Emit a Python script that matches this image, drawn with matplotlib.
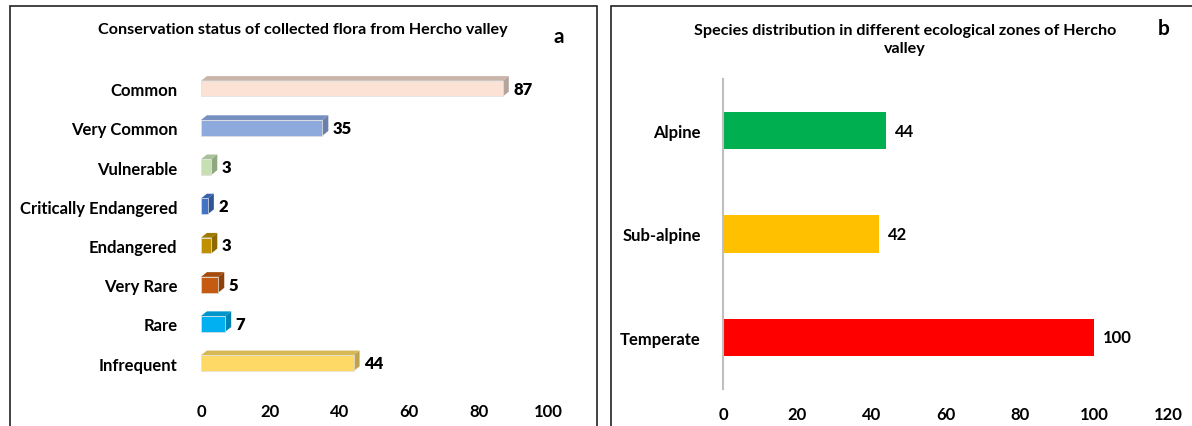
import numpy as np
import matplotlib.pyplot as plt
from matplotlib.patches import Rectangle, Polygon

plt.rcParams['font.family'] = ['Lato', 'DejaVu Sans']
plt.rcParams['font.weight'] = 'bold'

# panel a data (bottom to top)
status = ['Infrequent', 'Rare', 'Very Rare', 'Endangered', 'Critically Endangered',
          'Vulnerable', 'Very Common', 'Common']
status_counts = [44, 7, 5, 3, 2, 3, 35, 87]
front_cols = ['#FFD966', '#00B0F0', '#C55A11', '#BF9000', '#4472C4',
              '#C6E0B4', '#8EA9DB', '#FBE2D5']
side_cols = ['#BFA24C', '#0083B3', '#8F410C', '#8C6A00', '#2F5597',
             '#8FA880', '#6A80A8', '#B5A49B']
top_cols = ['#D6B855', '#0096CC', '#A54B0E', '#A07A00', '#3A63AE',
            '#A9C29A', '#7890C0', '#C9B6AB']

# panel b data (bottom to top)
zones = ['Temperate', 'Sub-alpine', 'Alpine']
zone_counts = [100, 42, 44]
zone_cols = ['#FF0000', '#FFC000', '#00B050']

W, H = 1192, 427
fig = plt.figure(figsize=(W / 100, H / 100), dpi=100)

# panel frames
fig.add_artist(Rectangle((10 / W, -0.1), 587 / W, 1.1 - 7 / H, transform=fig.transFigure,
                         fill=False, edgecolor='#222222', linewidth=1.2))
fig.add_artist(Rectangle((611 / W, -0.1), 700 / W, 1.1 - 7 / H, transform=fig.transFigure,
                         fill=False, edgecolor='#222222', linewidth=1.2))

# ---- panel a: pseudo-3D bars
ax1 = fig.add_axes([201 / W, 1 - 390 / H, 347 / W, 320 / H])
h, dx, dy = 0.40, 1.7, 0.12
y = np.arange(len(status))
for i, v in enumerate(status_counts):
    ax1.add_patch(Polygon([(0, i + h / 2), (v, i + h / 2), (v + dx, i + h / 2 + dy),
                           (dx, i + h / 2 + dy)], closed=True, facecolor=top_cols[i],
                          edgecolor='none'))
    ax1.add_patch(Polygon([(v, i - h / 2), (v + dx, i - h / 2 + dy), (v + dx, i + h / 2 + dy),
                           (v, i + h / 2)], closed=True, facecolor=side_cols[i],
                          edgecolor='none'))
ax1.barh(y, status_counts, height=h, color=front_cols, edgecolor='#E0E0E0', linewidth=0.5)
for i, v in enumerate(status_counts):
    ax1.text(v + dx + 1.3, i, str(v), va='center', ha='left', fontsize=12, fontweight='heavy')
ax1.set_xlim(0, 100)
ax1.set_ylim(-0.66, 7.5)
ax1.set_xticks([0, 20, 40, 60, 80, 100])
ax1.set_yticks(y)
ax1.set_yticklabels(status)
ax1.tick_params(axis='both', length=0, labelsize=12)
ax1.tick_params(axis='y', pad=17)
ax1.tick_params(axis='x', pad=10)
for s in ax1.spines.values():
    s.set_visible(False)
fig.text(303 / W, 1 - 30 / H, 'Conservation status of collected flora from Hercho valley',
         ha='center', va='center', fontsize=11.6, fontweight='bold')
fig.text(559 / W, 1 - 37 / H, 'a', ha='center', va='center', fontsize=15, fontweight='bold')

# ---- panel b
ax2 = fig.add_axes([723 / W, 1 - 390 / H, 445 / W, 310 / H])
yb = np.arange(len(zones))
ax2.barh(yb, zone_counts, height=0.36, color=zone_cols)
for i, v in enumerate(zone_counts):
    ax2.text(v + 2.4, i, str(v), va='center', ha='left', fontsize=12, fontweight='bold')
ax2.set_xlim(0, 120)
ax2.set_ylim(-0.5, 2.5)
ax2.set_xticks([0, 20, 40, 60, 80, 100, 120])
ax2.set_yticks(yb)
ax2.set_yticklabels(zones)
ax2.tick_params(axis='both', length=0, labelsize=12)
ax2.tick_params(axis='y', pad=16)
ax2.tick_params(axis='x', pad=12)
for k in ['top', 'right', 'bottom']:
    ax2.spines[k].set_visible(False)
ax2.spines['left'].set_color('#BFBFBF')
ax2.spines['left'].set_linewidth(1.5)
fig.text(905 / W, 1 - 40 / H, 'Species distribution in different ecological zones of Hercho\nvalley',
         ha='center', va='center', fontsize=11.6, fontweight='bold', linespacing=1.4)
fig.text(1164 / W, 1 - 29 / H, 'b', ha='center', va='center', fontsize=15, fontweight='bold')

fig.savefig('out.png', dpi=100)
